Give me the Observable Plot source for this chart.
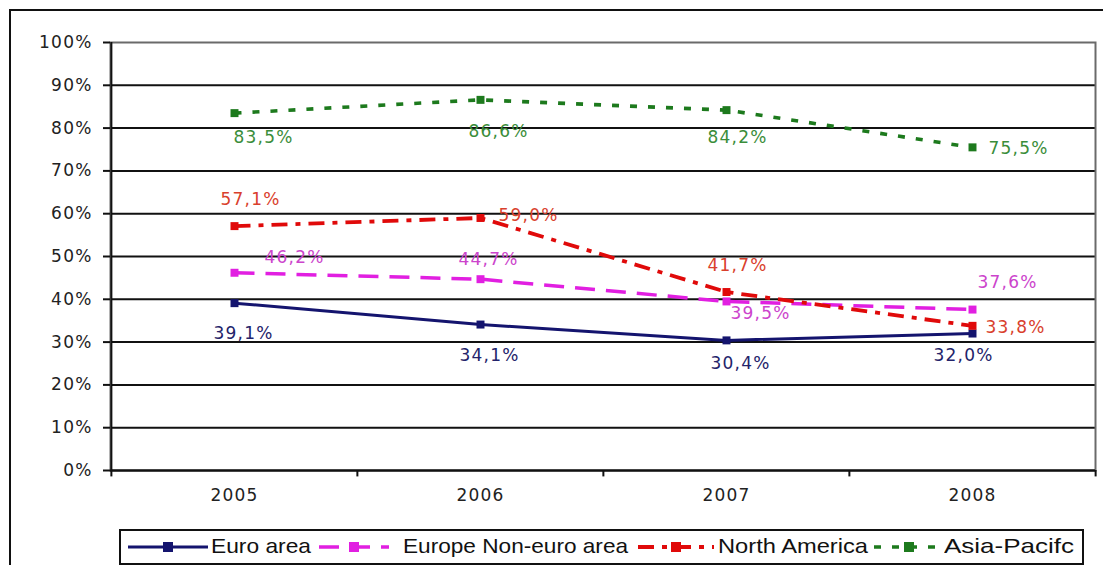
<!DOCTYPE html>
<html><head><meta charset="utf-8">
<script src="https://cdn.jsdelivr.net/npm/d3@7"></script>
<script src="https://cdn.jsdelivr.net/npm/@observablehq/plot@0.6"></script>
<style>
body{margin:0;background:#fff;}
#wrap{position:relative;width:1103px;height:565px;overflow:hidden;font-family:"DejaVu Sans",sans-serif;background:#fff;}
#frame{position:absolute;left:9px;top:9px;width:1120px;height:590px;border:2px solid #111;}
#chart{position:absolute;left:0;top:0;}
#chart svg text{letter-spacing:1.2px;}
#legend{position:absolute;left:119px;top:529px;width:961px;height:32px;border:2px solid #111;font-family:"Liberation Sans",Arial,sans-serif;font-size:21px;color:#111;white-space:nowrap;}
#legend svg, #legend span{position:absolute;}
#legend svg{top:9px;}
#legend span{top:3px;transform-origin:left center;}
</style></head>
<body>
<div id="wrap"><div id="frame"></div><div id="chart"></div><div id="legend"></div></div>
<script>
const years = ["2005", "2006", "2007", "2008"];
const seriesNames = ["Euro area", "Europe Non-euro area", "North America", "Asia-Pacifc"];
const euroArea = [39.1, 34.1, 30.4, 32.0];
const europeNonEuro = [46.2, 44.7, 39.5, 37.6];
const northAmerica = [57.1, 59.0, 41.7, 33.8];
const asiaPacific = [83.5, 86.6, 84.2, 75.5];
const yTicks = [0, 10, 20, 30, 40, 50, 60, 70, 80, 90, 100];

const seriesValues = [euroArea, europeNonEuro, northAmerica, asiaPacific];

const styles = {
  "Euro area": {color: "#14146e", label: "#23236a", dash: null, width: 3},
  "Europe Non-euro area": {color: "#e11fe1", label: "#cc44cc", dash: "20,11", width: 3.5},
  "North America": {color: "#e00a0a", label: "#d9402c", dash: "16,8,5,8", width: 3.8},
  "Asia-Pacifc": {color: "#1d7a1d", label: "#3a8d3a", dash: "7,11", width: 3.6}
};
// label offsets (px) relative to each point, text anchored at start
const labelOffsets = {
  "Euro area": [[-21, 30], [-21, 31], [-16, 23], [-39, 22]],
  "Europe Non-euro area": [[30, -15], [-22, -20], [4, 12], [5, -27]],
  "North America": [[-14, -27], [18, -2], [-19, -26], [13, 2]],
  "Asia-Pacifc": [[-1, 24], [-12, 32], [-19, 27], [16, 1]]
};
// legend layout inside the legend box (px): sample left/width, text left/width
const legendSample = [[7, 80], [198, 70], [517, 76], [753, 70]];
const legendText = [[90, 100], [282, 225], [597, 150], [823, 130]];

const rows = [];
seriesNames.forEach((s, i) => years.forEach((y, j) => rows.push({
  series: s, year: y, value: seriesValues[i][j],
  dx: labelOffsets[s][j][0], dy: labelOffsets[s][j][1]
})));
const fmt = v => v.toFixed(1).replace(".", ",") + "%";

const W = 1103, H = 525, ML = 110, MR = 8, MT = 42, MB = 55;
const step = (W - ML - MR) / years.length;
const FONT = "DejaVu Sans, sans-serif";

const marks = [
  Plot.ruleY(yTicks.filter(t => t < 100), {y: d => d, stroke: "#111", strokeWidth: 2}),
  Plot.frame({stroke: "#6a6a6a", strokeWidth: 2}),
  Plot.ruleY([0], {stroke: "#111", strokeWidth: 2}),
  Plot.ruleX([years[0]], {x: d => d, dx: -step / 2, y1: 0, y2: 100, stroke: "#111", strokeWidth: 2}),
  Plot.ruleX(years, {x: d => d, dx: -step / 2, y1: 0, y2: -1.5, stroke: "#111", strokeWidth: 2}),
  Plot.ruleX([years[years.length - 1]], {x: d => d, dx: step / 2, y1: 0, y2: -1.5, stroke: "#111", strokeWidth: 2}),
  Plot.axisY({ticks: yTicks, tickFormat: d => d + "%", tickSize: 7, tickPadding: 11, fontSize: 17, stroke: "#111", strokeWidth: 2, fill: "#222", label: null}),
  Plot.axisX({tickSize: 0, tickPadding: 18, fontSize: 17, fill: "#222", label: null})
];
seriesNames.forEach(s => {
  const st = styles[s];
  const d = rows.filter(r => r.series === s);
  marks.push(Plot.line(d, {x: "year", y: "value", stroke: st.color, strokeWidth: st.width, strokeDasharray: st.dash, strokeLinecap: "butt"}));
  marks.push(Plot.dot(d, {x: "year", y: "value", symbol: "square", r: 4.5, fill: st.color, stroke: "none"}));
});
seriesNames.forEach(s => {
  const st = styles[s];
  rows.filter(r => r.series === s).forEach(r => {
    marks.push(Plot.text([r], {x: "year", y: "value", text: d => fmt(d.value), textAnchor: "start", dx: r.dx, dy: r.dy, fill: st.label, fontSize: 17, fontFamily: FONT}));
  });
});

const chart = Plot.plot({
  width: W, height: H,
  marginLeft: ML, marginRight: MR, marginTop: MT, marginBottom: MB,
  style: {background: "transparent", fontFamily: FONT},
  x: {type: "point", domain: years, padding: 0.5, axis: null, label: null},
  y: {domain: [0, 100], axis: null, label: null},
  marks
});
document.getElementById("chart").appendChild(chart);

const legend = document.getElementById("legend");
const ns = "http://www.w3.org/2000/svg";
seriesNames.forEach((s, i) => {
  const st = styles[s];
  const [sl, sw] = legendSample[i];
  const svg = document.createElementNS(ns, "svg");
  svg.setAttribute("width", sw); svg.setAttribute("height", 14);
  svg.style.left = sl + "px";
  const line = document.createElementNS(ns, "line");
  line.setAttribute("x1", 0); line.setAttribute("x2", sw); line.setAttribute("y1", 7); line.setAttribute("y2", 7);
  line.setAttribute("stroke", st.color); line.setAttribute("stroke-width", st.width);
  if (st.dash) line.setAttribute("stroke-dasharray", st.dash);
  const rect = document.createElementNS(ns, "rect");
  rect.setAttribute("x", sw / 2 - 5); rect.setAttribute("y", 2); rect.setAttribute("width", 10); rect.setAttribute("height", 10);
  rect.setAttribute("fill", st.color);
  svg.appendChild(line); svg.appendChild(rect);
  legend.appendChild(svg);
  const [tl, tw] = legendText[i];
  const t = document.createElement("span");
  t.textContent = s;
  t.style.left = tl + "px";
  legend.appendChild(t);
  const w = t.getBoundingClientRect().width;
  if (w > 0) t.style.transform = "scaleX(" + (tw / w).toFixed(3) + ")";
});
</script>
</body></html>
